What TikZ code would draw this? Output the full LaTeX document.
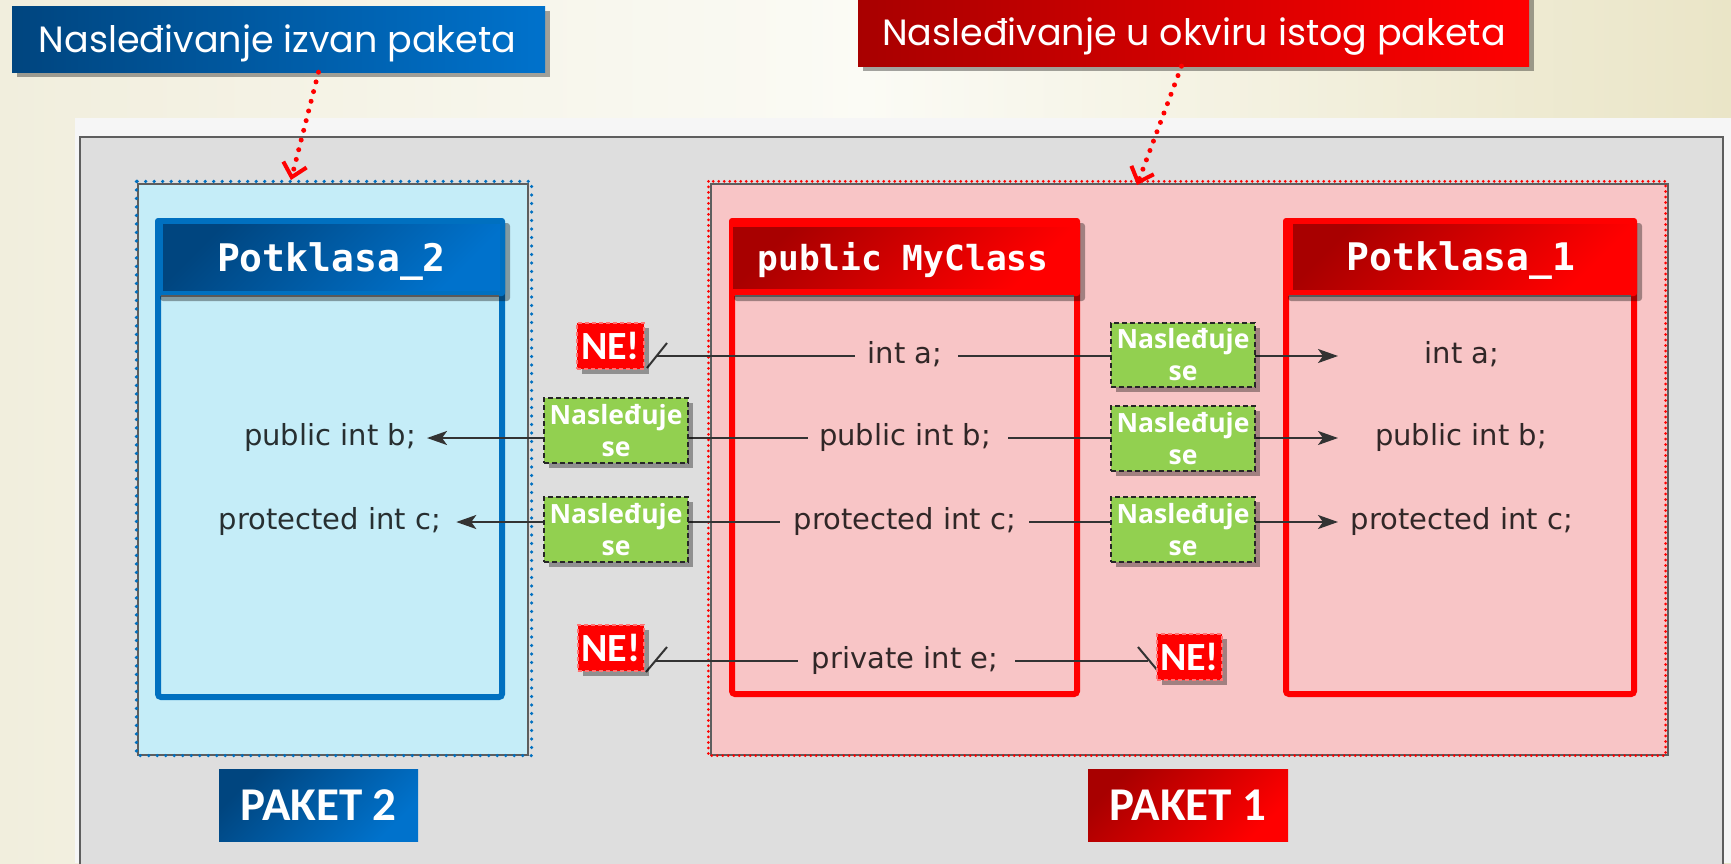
\documentclass[tikz,border=0pt]{standalone}
\usepackage{fontspec}
\setmainfont{DejaVu Sans}
\newfontfamily\ttlfont{Poppins}
\newfontfamily\hdrfont{DejaVu Sans Mono}
\newfontfamily\grfont{Open Sans}
\newfontfamily\pkfont{Carlito}
\usetikzlibrary{arrows.meta,shadows,calc}
\definecolor{bgL}{HTML}{F1EEDD}
\definecolor{bgM}{HTML}{FBFBF5}
\definecolor{bgR}{HTML}{EAE5C7}
\definecolor{bandW}{HTML}{F6F6F6}
\definecolor{panelG}{HTML}{DEDEDE}
\definecolor{panelL}{HTML}{5E5E5E}
\definecolor{cyanF}{HTML}{C5EDF8}
\definecolor{pinkF}{HTML}{F8C5C6}
\definecolor{blueB}{HTML}{0070C0}
\definecolor{blueD}{HTML}{00457F}
\definecolor{blueL}{HTML}{0072CC}
\definecolor{redB}{HTML}{FF0000}
\definecolor{redD}{HTML}{A80000}
\definecolor{greenF}{HTML}{92D050}
\definecolor{lineC}{HTML}{333333}
\begin{document}
\begin{tikzpicture}[x=1pt,y=-1pt,
  shad/.style={drop shadow={shadow xshift=5pt,shadow yshift=-5pt,opacity=0.35,fill=black}},
  pkgbox/.style={draw=panelL,line width=1.2pt,inner sep=0pt},
  pkgdot/.style={line width=3.6pt,dash pattern=on 0pt off #1,line cap=round},
  clsframe/.style={line width=6pt,rounded corners=3pt,inner sep=0pt},
  hband/.style={inner sep=0pt,rounded corners=3pt,shad},
  hgrad/.style={inner sep=0pt,text=white,text depth=0pt},
  sepline/.style={draw=black!65,line width=2pt},
  rowtext/.style={inner sep=0pt,text=black,text opacity=0.8,font=\fontsize{29}{34}\selectfont,text height=21pt,text depth=6pt},
  conn/.style={draw=lineC,line width=2pt},
  arr/.style={conn,-{Stealth[length=20pt,width=14pt,inset=5pt]}},
  slashmark/.style={draw=lineC,line width=2pt},
  gbox/.style={draw=black!85,dash pattern=on 5pt off 3pt,line width=1.8pt,fill=greenF,minimum width=144pt,minimum height=64pt,inner sep=0pt,text=white,font=\grfont\bfseries\fontsize{26.5}{32}\selectfont,align=center,shad},
  nebox/.style={fill=redB,draw=red!55!white,dash pattern=on 4pt off 3pt,line width=1.5pt,minimum width=66pt,minimum height=46pt,inner sep=0pt,text=white,font=\pkfont\bfseries\fontsize{40}{40}\selectfont,text height=26pt,text depth=0pt,shad},
  pkbox/.style={minimum width=200pt,minimum height=72pt,inner sep=0pt,text=white,font=\pkfont\bfseries\fontsize{47}{47}\selectfont,text height=30pt,text depth=0pt},
  ttlbox/.style={inner sep=0pt,shad},
  ttltext/.style={inner sep=0pt,text=white,font=\ttlfont\fontsize{36.5}{40}\selectfont,anchor=base},
  tarrow/.style={draw=redB,line width=5pt,dash pattern=on 0pt off 10pt,line cap=round,-{Straight Barb[length=13pt,width=24pt,line width=4pt]}}
]
\useasboundingbox (0,0) rectangle (1731,863);
% background
\shade[left color=bgL,right color=bgR,middle color=bgM] (0,0) rectangle (1731,863);
\fill[bandW] (75,118) rectangle (1731,863);
\draw[fill=panelG,draw=panelL,line width=2pt] (80,137) rectangle (1723,880);

% packages
\node[pkgbox,fill=cyanF,minimum width=390pt,minimum height=571pt] (pkg2) at (333,469.5) {};
\draw[pkgdot=8.5pt,draw=blueB] ([shift={(-1,-2)}]pkg2.north west) rectangle ([shift={(3,0)}]pkg2.south east);
\node[pkgbox,fill=pinkF,minimum width=957pt,minimum height=571pt] (pkg1) at (1189.5,469.5) {};
\draw[pkgdot=5.5pt,draw=redB,line width=3pt] ([shift={(-2,-2)}]pkg1.north west) rectangle ([shift={(-3,0)}]pkg1.south east);

% class Potklasa_2
\node[clsframe,draw=blueB,fill=cyanF,minimum width=344pt,minimum height=476pt] (c2) at (330,459) {};
\node[hband,fill=blueB,minimum width=350pt,minimum height=78pt] (hb2) at (330,257) {};
\draw[sepline] ([xshift=6pt]hb2.south west) -- ([xshift=-6pt]hb2.south east);
\node[hgrad,top color=blueD,bottom color=blueL,shading angle=45,minimum width=337pt,minimum height=66pt,font=\hdrfont\bfseries\fontsize{38}{40}\selectfont,text height=28pt] (h2) at (331.5,257) {Potklasa\_2};

% class MyClass
\node[clsframe,draw=redB,fill=pinkF,minimum width=345pt,minimum height=473pt] (cm) at (904.5,457.5) {};
\node[hband,fill=redB,minimum width=351pt,minimum height=78pt] (hbm) at (904.5,257) {};
\draw[sepline] ([xshift=6pt]hbm.south west) -- ([xshift=-6pt]hbm.south east);
\node[hgrad,top color=redD,bottom color=redB,shading angle=45,minimum width=340pt,minimum height=61pt,font=\hdrfont\bfseries\fontsize{34.5}{40}\selectfont,text height=25pt] (hm) at (903,257.5) {public MyClass};

% class Potklasa_1
\node[clsframe,draw=redB,fill=pinkF,minimum width=348pt,minimum height=473pt] (c1) at (1460,457.5) {};
\node[hband,fill=redB,minimum width=354pt,minimum height=78pt] (hb1) at (1460,257) {};
\draw[sepline] ([xshift=6pt]hb1.south west) -- ([xshift=-6pt]hb1.south east);
\node[hgrad,top color=redD,bottom color=redB,shading angle=45,minimum width=336pt,minimum height=65pt,font=\hdrfont\bfseries\fontsize{38}{40}\selectfont,text height=28pt] (h1) at (1461,256.5) {Potklasa\_1};

% member texts
\node[rowtext] (p2B) at (330,438) {public int b;};
\node[rowtext] (p2C) at (330,522) {protected int c;};
\node[rowtext] (mA) at (905,356) {int a;};
\node[rowtext] (mB) at (905,438) {public int b;};
\node[rowtext] (mC) at (905,522) {protected int c;};
\node[rowtext] (mE) at (905,661) {private int e;};
\node[rowtext] (p1A) at (1462,356) {int a;};
\node[rowtext] (p1B) at (1461,438) {public int b;};
\node[rowtext] (p1C) at (1462,522) {protected int c;};

% free ends
\coordinate (nAL) at (657,356);
\coordinate (nEL) at (656,661);
\coordinate (nER) at (1148,661);
\coordinate (tA) at (1338,356);
\coordinate (tB) at (1338,438);
\coordinate (tC) at (1338,522);

% connectors
\draw[conn,shorten <=13pt] (mA.west) -- (nAL);
\draw[slashmark] ([shift={(-10,12)}]nAL) -- ([shift={(10,-13)}]nAL);
\draw[arr,shorten <=16pt] (mA.east) -- (tA);
\draw[arr,shorten <=11pt,shorten >=11pt] (mB.west) -- (p2B.east);
\draw[arr,shorten <=17pt] (mB.east) -- (tB);
\draw[arr,shorten <=14pt,shorten >=15pt] (mC.west) -- (p2C.east);
\draw[arr,shorten <=13pt] (mC.east) -- (tC);
\draw[conn,shorten <=14pt] (mE.west) -- (nEL);
\draw[slashmark] ([shift={(-10,11)}]nEL) -- ([shift={(11,-14)}]nEL);
\draw[conn,shorten <=17pt] (mE.east) -- (nER);
\draw[slashmark] ([shift={(-10,-14)}]nER) -- ([shift={(10,10)}]nER);

% green labels
\node[gbox,minimum height=65pt] (gBL) at (616,430.5) {Nasleđuje\\se};
\node[gbox,minimum height=65pt] (gCL) at (616,529.5) {Nasleđuje\\se};
\node[gbox] (gAR) at (1183,355) {Nasleđuje\\se};
\node[gbox,minimum height=65pt] (gBR) at (1183,438.5) {Nasleđuje\\se};
\node[gbox,minimum height=65pt] (gCR) at (1183,529.5) {Nasleđuje\\se};

% NE labels
\node[nebox,minimum width=67pt] (neA) at (610.5,346) {NE!};
\node[nebox] (neEL) at (611,648) {NE!};
\node[nebox,minimum width=65pt] (neER) at (1189.5,657) {NE!};

% package labels
\node[pkbox,top color=blueD,bottom color=blueL,shading angle=45,minimum width=199pt] (pk2) at (318.5,805) {PAKET 2};
\node[pkbox,top color=redD,bottom color=redB,shading angle=45] (pk1) at (1188,805) {PAKET 1};

% titles
\node[ttlbox,left color=blueD,right color=blueL,minimum width=533pt,minimum height=66pt] (ttl2) at (278.5,39) {};
\node[ttltext] (ttl2t) at (277.5,52) {Nasleđivanje izvan paketa};
\node[ttlbox,left color=redD,right color=redB,minimum width=671pt,minimum height=72pt] (ttl1) at (1193.5,30) {};
\node[ttltext] (ttl1t) at (1194,45) {Nasleđivanje u okviru istog paketa};

\coordinate (a2tip) at (291,180);
\coordinate (a1tip) at (1137,185);
\draw[tarrow] ([xshift=40pt]ttl2.south) -- (a2tip);
\draw[tarrow] ([xshift=-12pt]ttl1.south) -- (a1tip);
\end{tikzpicture}
\end{document}
